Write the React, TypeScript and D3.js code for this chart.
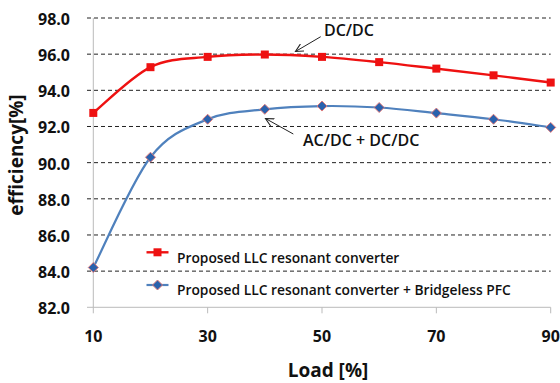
import React from "react";
import * as d3 from "d3";

const loads = [10, 20, 30, 40, 50, 60, 70, 80, 90];
const dcdc = [92.75, 95.28, 95.85, 95.98, 95.85, 95.56, 95.2, 94.83, 94.43];
const acdc = [84.2, 90.3, 92.4, 92.95, 93.13, 93.05, 92.74, 92.4, 91.95];
const yTicks = [82, 84, 86, 88, 90, 92, 94, 96, 98];
const xTicks = [10, 30, 50, 70, 90];
const legendLabels = [
  "Proposed LLC resonant converter",
  "Proposed LLC resonant converter + Bridgeless PFC",
];

const W = 560;
const H = 383;
const FONT = "'Open Sans', 'Noto Sans', sans-serif";

// Excel-style smoothed line: Bezier with control points from neighbours / 6
function smoothPath(pts: [number, number][]): string {
  const p = d3.path();
  const n = pts.length;
  const at = (i: number) => pts[Math.max(0, Math.min(n - 1, i))];
  p.moveTo(pts[0][0], pts[0][1]);
  for (let i = 0; i < n - 1; i++) {
    const p0 = at(i - 1), p1 = at(i), p2 = at(i + 1), p3 = at(i + 2);
    const c1x = p1[0] + (p2[0] - p0[0]) / 6;
    const c1y = p1[1] + (p2[1] - p0[1]) / 6;
    const c2x = p2[0] - (p3[0] - p1[0]) / 6;
    const c2y = p2[1] - (p3[1] - p1[1]) / 6;
    p.bezierCurveTo(c1x, c1y, c2x, c2y, p2[0], p2[1]);
  }
  return p.toString();
}

export default function App() {
  const x = d3.scaleLinear().domain([10, 90]).range([93.3, 550.7]);
  const y = d3.scaleLinear().domain([82, 98]).range([307.3, 18]);
  const redPts = loads.map((l, i) => [l, dcdc[i]] as [number, number]);
  const bluePts = loads.map((l, i) => [l, acdc[i]] as [number, number]);
  const toPx = (pts: [number, number][]) =>
    pts.map((d) => [x(d[0]), y(d[1])] as [number, number]);
  const red = "#ee1111";
  const blue = "#4f81bd";
  const diamondFill = "#2a62ad";

  const diamond = (cx: number, cy: number, r: number) =>
    `M${cx},${cy - r}L${cx + r},${cy}L${cx},${cy + r}L${cx - r},${cy}Z`;

  return (
    <svg
      width={W}
      height={H}
      style={{ position: "absolute", left: 0, top: 0, background: "#fff" }}
      fontFamily={FONT}
    >
      <defs>
        <marker
          id="arr"
          viewBox="0 0 10 10"
          refX="9"
          refY="5"
          markerWidth="9"
          markerHeight="9"
          orient="auto"
          markerUnits="userSpaceOnUse"
        >
          <path d="M0,0.5L9,5L0,9.5" fill="none" stroke="#222" strokeWidth="1.2" />
        </marker>
      </defs>
      <rect width={W} height={H} fill="#fff" />
      {yTicks.slice(1).map((t) => (
        <line
          key={t}
          x1={87}
          x2={550.7}
          y1={y(t)}
          y2={y(t)}
          stroke="#222"
          strokeWidth={1}
          strokeDasharray="4,3"
        />
      ))}
      <line x1={x(10)} x2={x(10)} y1={y(98)} y2={y(82)} stroke="#bbb" strokeWidth={1} />
      <line x1={87} x2={550.7} y1={y(82)} y2={y(82)} stroke="#bbb" strokeWidth={1} />
      {xTicks.map((t) => (
        <line key={t} x1={x(t)} x2={x(t)} y1={y(82)} y2={y(82) + 6} stroke="#bbb" />
      ))}
      {yTicks.map((t) => (
        <text
          key={t}
          x={70}
          y={y(t) + 1}
          textAnchor="end"
          dominantBaseline="central"
          fontSize={16}
          fontWeight="bold"
          fill="#111"
        >
          {t.toFixed(1)}
        </text>
      ))}
      {xTicks.map((t) => (
        <text
          key={t}
          x={x(t)}
          y={336}
          textAnchor="middle"
          dominantBaseline="central"
          fontSize={16}
          fontWeight="bold"
          fill="#111"
        >
          {t}
        </text>
      ))}
      <text
        transform={`translate(16,155) rotate(-90)`}
        textAnchor="middle"
        dominantBaseline="central"
        fontSize={19}
        fontWeight="bold"
        fill="#111"
      >
        efficiency[%]
      </text>
      <text
        x={328}
        y={370}
        textAnchor="middle"
        dominantBaseline="central"
        fontSize={19}
        fontWeight="bold"
        fill="#111"
      >
        Load [%]
      </text>
      <path d={smoothPath(toPx(bluePts))} fill="none" stroke={blue} strokeWidth={2.2} />
      <path d={smoothPath(toPx(redPts))} fill="none" stroke={red} strokeWidth={2.4} />
      {redPts.map((p, i) => (
        <rect key={i} x={x(p[0]) - 4} y={y(p[1]) - 4} width={8} height={8} fill={red} />
      ))}
      {bluePts.map((p, i) => (
        <path
          key={i}
          d={diamond(x(p[0]), y(p[1]), 5)}
          fill={diamondFill}
          stroke="#e07a7a"
          strokeWidth={1}
        />
      ))}
      <line x1={146.5} x2={168.5} y1={252.3} y2={252.3} stroke={red} strokeWidth={2.4} />
      <rect x={153.5} y={248.3} width={8} height={8} fill={red} />
      <text x={177} y={257.5} dominantBaseline="central" fontSize={13.8} fontWeight={600} fill="#111">
        {legendLabels[0]}
      </text>
      <line x1={146.5} x2={168.5} y1={285} y2={285} stroke={blue} strokeWidth={2.2} />
      <path d={diamond(157.5, 285, 5)} fill={diamondFill} stroke="#e07a7a" strokeWidth={1} />
      <text x={177} y={289} dominantBaseline="central" fontSize={13.8} fontWeight={600} fill="#111">
        {legendLabels[1]}
      </text>
      <text x={324} y={30} dominantBaseline="central" fontSize={16} fontWeight={600} fill="#111">
        DC/DC
      </text>
      <line x1={320.7} y1={36.7} x2={295.5} y2={51.5} stroke="#222" strokeWidth={1} markerEnd="url(#arr)" />
      <text x={303} y={140} dominantBaseline="central" fontSize={16} fontWeight={600} fill="#111">
        AC/DC + DC/DC
      </text>
      <line x1={293.3} y1={134} x2={265.5} y2={118.5} stroke="#222" strokeWidth={1} markerEnd="url(#arr)" />
    </svg>
  );
}
